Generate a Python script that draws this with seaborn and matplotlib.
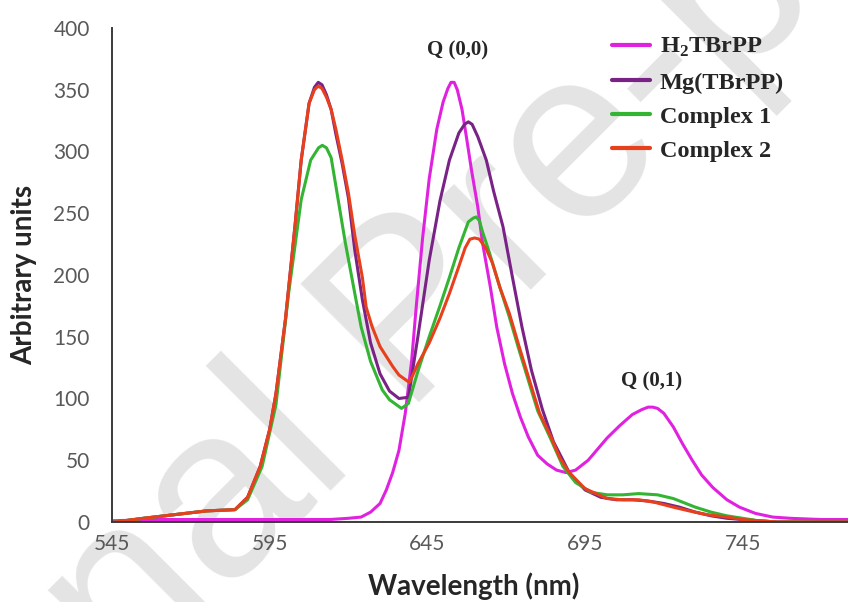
import pandas as pd
import matplotlib
matplotlib.use("Agg")
import matplotlib.pyplot as plt
import seaborn as sns

# -----------------------------------
# Emission spectra
# -----------------------------------
wl_h2 = [545, 560, 580, 600, 614, 620, 624, 627, 630, 632, 634, 636, 638, 640,
         641.5, 643.5, 645.6, 648, 650, 651.5, 652.5, 653.5, 654.5, 656, 657.5,
         659, 661, 662.5, 665, 667, 669.5, 672, 674.5, 677, 680, 683, 686, 689,
         692, 696, 699, 702, 706, 710, 713, 715, 716.5, 718, 720, 723, 726, 729,
         732, 735.5, 740, 744, 749, 754.5, 760, 770, 779]
val_h2 = [1, 2, 2, 2, 2, 3, 4, 8, 15, 26, 40, 58, 88, 130,
          175, 230, 278, 318, 340, 351, 356, 356, 350, 334, 310,
          285, 255, 226, 190, 158, 128, 104, 85, 69, 54, 47, 42, 40,
          42, 50, 59, 68, 78, 87, 91, 93, 93, 92, 88, 77, 63, 50,
          38, 28, 18, 12, 7, 4, 3, 2, 2]

wl_mg = [546, 555, 565, 575, 584, 588, 592, 595, 597, 600, 603, 605, 607.5,
         609.2, 610.4, 611.6, 613, 614.5, 616, 618, 620, 622, 624.4, 627, 630,
         633, 636, 639, 642, 645.6, 649, 652, 655, 656.8, 658, 659.2, 661, 662,
         663.7, 666, 669, 672, 675, 678, 681.5, 685, 690, 695, 700, 705, 710,
         715, 720, 725, 730, 735, 740, 745, 750, 756, 765, 779]
val_mg = [0, 3, 6, 9, 10, 20, 45, 75, 104, 164, 239, 293, 339,
          352, 356, 354, 346, 334, 314, 290, 262, 220, 180, 145, 120,
          106, 100, 101, 150, 212, 260, 293, 315, 322, 324, 322, 312, 305,
          293, 268, 239, 198, 158, 123, 91, 65, 40, 26, 20, 18, 18,
          17, 15, 12, 8, 5, 3, 2, 1, 0, 0, 0]

wl_c1 = [546, 555, 565, 575, 584, 588, 592.6, 597, 601, 605, 608, 610.5, 611.7,
         613, 614.5, 616, 619, 622, 624, 627, 630.7, 633, 636.8, 639, 642, 645.6,
         649, 652, 655, 658, 659.5, 660.5, 661.5, 662.5, 664.7, 668, 671, 674,
         677, 680, 684, 688, 692, 697, 702, 707, 712, 718, 723, 727, 730, 735,
         740, 745, 750, 756, 765, 779]
val_c1 = [0, 3, 6, 9, 10, 18, 45, 95, 185, 261, 293, 303, 305,
          303, 295, 272, 226, 185, 158, 130, 107, 99, 92, 96, 122, 150,
          175, 198, 222, 243, 246, 247, 244, 235, 218, 190, 166, 140,
          115, 90, 68, 45, 32, 24, 22, 22, 23, 22, 19, 15, 12, 8,
          5, 3, 1, 0, 0, 0]

wl_c2 = [546, 555, 565, 575, 584, 588, 592, 595, 597, 600, 603, 605, 607.5,
         609.2, 610.4, 611.6, 613, 614.5, 616, 618, 620, 622, 624.4, 625.6,
         627.5, 630, 634, 636, 639.3, 642, 645.6, 649, 652, 655, 657, 658.5,
         660, 661.5, 663.5, 665.6, 668, 671, 674, 677, 680.6, 684, 687, 690,
         695, 702, 707, 712, 717, 723, 728, 733.6, 740, 745, 750, 756, 765, 779]
val_c2 = [0, 3, 6, 9, 10, 20, 45, 75, 104, 164, 239, 293, 339,
          350, 353, 351, 344, 334, 318, 293, 266, 232, 198, 174,
          158, 142, 126, 119, 113, 128, 145, 165, 185, 207, 222, 229,
          230, 229, 222, 210, 190, 169, 143, 118, 88, 70, 52, 40,
          27, 19, 18, 18, 16, 12, 9, 6, 4, 2, 1, 0, 0, 0]

series_names = ["H2TBrPP", "Mg(TBrPP)", "Complex 1", "Complex 2"]
legend_labels = [r"H$_\mathbf{2}$TBrPP", "Mg(TBrPP)", "Complex 1", "Complex 2"]
colors = ["#e022e0", "#7a2386", "#33b533", "#e8401c"]

x_ticks = [545, 595, 645, 695, 745]
y_ticks = [0, 50, 100, 150, 200, 250, 300, 350, 400]

# -----------------------------------
# Long-form table for seaborn
# -----------------------------------
frames = []
for name, wl, val in zip(series_names,
                         [wl_h2, wl_mg, wl_c1, wl_c2],
                         [val_h2, val_mg, val_c1, val_c2]):
    frames.append(pd.DataFrame({"wl": wl, "val": val, "series": name}))
df = pd.concat(frames, ignore_index=True)

# -----------------------------------
# Plot
# -----------------------------------
sns.set_style("white")
plt.rcParams["font.family"] = ["Lato", "DejaVu Sans"]
plt.rcParams["mathtext.fontset"] = "custom"
plt.rcParams["mathtext.rm"] = "Liberation Serif"
plt.rcParams["mathtext.bf"] = "Liberation Serif:bold"

fig = plt.figure(figsize=(8.48, 6.02), dpi=100)
ax = fig.add_axes([112 / 848, 80 / 602, 1 - 112 / 848, 494 / 602])
ax.patch.set_alpha(0)

# watermark behind the curves
ax.text(414 / 848, 1 - 319 / 602, "Journal Pre-proof", transform=fig.transFigure,
        rotation=45, fontsize=175, color="#e4e4e4", ha="center", va="center",
        family="Liberation Sans", zorder=0, clip_on=False)

sns.lineplot(data=df, x="wl", y="val", hue="series", hue_order=series_names,
             palette=colors, sort=False, estimator=None, linewidth=2.2, ax=ax)

ax.set_xlim(545, 778.4)
ax.set_ylim(0, 400)
ax.set_xticks(x_ticks)
ax.set_yticks(y_ticks)
ax.tick_params(length=0, labelsize=15, labelcolor="#595959")
ax.tick_params(axis="x", pad=9)
ax.tick_params(axis="y", pad=16)

for side in ["top", "right"]:
    ax.spines[side].set_visible(False)
for side in ["left", "bottom"]:
    ax.spines[side].set_color("#3a3a3a")
    ax.spines[side].set_linewidth(1.4)

ax.set_xlabel("Wavelength (nm)", fontsize=20, fontweight="bold")
ax.set_ylabel("Arbitrary units", fontsize=20, fontweight="bold")
ax.xaxis.set_label_coords((474 - 112) / 736, -(572 - 522) / 494)
ax.yaxis.set_label_coords((37 - 112) / 736, 0.5)

serif_bold = {"family": "Liberation Serif", "weight": "bold"}
ax.text(654.5, 382, "Q (0,0)", ha="center", va="center", fontsize=15, fontdict=serif_bold)
ax.text(716, 114, "Q (0,1)", ha="center", va="center", fontsize=15, fontdict=serif_bold)

handles, _ = ax.get_legend_handles_labels()
leg = ax.legend(handles, legend_labels, loc="upper left",
                bbox_to_anchor=(600 / 848, 1 - 24 / 602), bbox_transform=fig.transFigure,
                frameon=False, handlelength=1.56, handletextpad=0.4, labelspacing=0.5,
                borderpad=0, prop={"family": "Liberation Serif", "weight": "bold", "size": 17.5})
for line in leg.get_lines():
    line.set_linewidth(3)

fig.savefig("out.png", dpi=100)
